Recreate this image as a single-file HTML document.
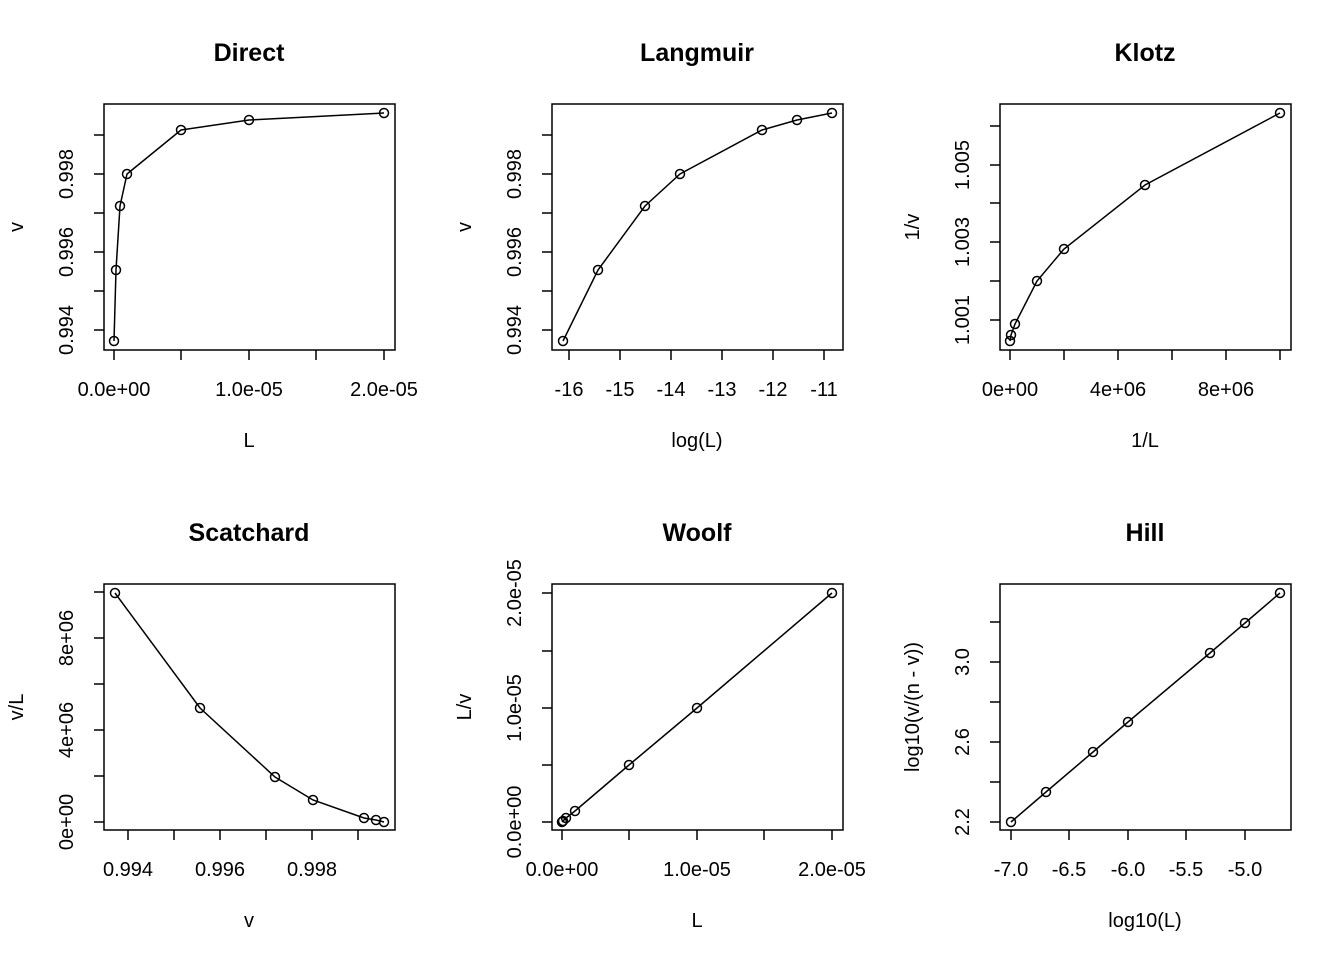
<!DOCTYPE html>
<html><head><style>body{margin:0;background:#fff}svg{display:block}text{font-family:"Liberation Sans",sans-serif;fill:#000}</style></head><body>
<svg width="1344" height="960" xmlns="http://www.w3.org/2000/svg" font-size="20">
<g fill="none" stroke="#000" stroke-width="1.5">
<rect x="104" y="104" width="291" height="246"/><rect x="552" y="104" width="291" height="246"/><rect x="1000" y="104" width="291" height="246"/>
<rect x="104" y="584" width="291" height="246"/><rect x="552" y="584" width="291" height="246"/><rect x="1000" y="584" width="291" height="246"/>
</g>
<g font-weight="bold" font-size="25" text-anchor="middle">
<text x="249" y="61">Direct</text><text x="697" y="61">Langmuir</text><text x="1145" y="61">Klotz</text>
<text x="249" y="541">Scatchard</text><text x="697" y="541">Woolf</text><text x="1145" y="541">Hill</text>
</g>
<g text-anchor="middle">
<text x="249" y="447">L</text><text x="697" y="447">log(L)</text><text x="1145" y="447">1/L</text>
<text x="249" y="927">v</text><text x="697" y="927">L</text><text x="1145" y="927">log10(L)</text>
<text transform="translate(23,227) rotate(-90)">v</text>
<text transform="translate(471,227) rotate(-90)">v</text>
<text transform="translate(919,227) rotate(-90)">1/v</text>
<text transform="translate(23,707) rotate(-90)">v/L</text>
<text transform="translate(471,707) rotate(-90)">L/v</text>
<text transform="translate(919,707) rotate(-90)">log10(v/(n - v))</text>
</g>
<g stroke="#000" stroke-width="1.5" fill="none">
<path d="M114 350v10M181 350v10M249 350v10M316 350v10M384 350v10M104 330h-10M104 291h-10M104 252h-10M104 213h-10M104 174h-10M104 135h-10"/>
<path d="M569 350v10M620 350v10M671 350v10M722 350v10M773 350v10M824 350v10M552 330h-10M552 291h-10M552 252h-10M552 213h-10M552 174h-10M552 135h-10"/>
<path d="M1010 350v10M1064 350v10M1118 350v10M1172 350v10M1226 350v10M1280 350v10M1000 320h-10M1000 281h-10M1000 242h-10M1000 203h-10M1000 165h-10M1000 126h-10"/>
<path d="M128 830v10M174 830v10M220 830v10M266 830v10M312 830v10M358 830v10M104 822h-10M104 776h-10M104 730h-10M104 684h-10M104 638h-10M104 592h-10"/>
<path d="M562 830v10M629 830v10M697 830v10M764 830v10M832 830v10M552 822h-10M552 765h-10M552 708h-10M552 651h-10M552 593h-10"/>
<path d="M1011 830v10M1069 830v10M1128 830v10M1186 830v10M1245 830v10M1000 822h-10M1000 782h-10M1000 742h-10M1000 702h-10M1000 662h-10M1000 622h-10"/>
</g>
<g text-anchor="middle">
<text x="114" y="396">0.0e+00</text><text x="249" y="396">1.0e-05</text><text x="384" y="396">2.0e-05</text>
<text x="569" y="396">-16</text><text x="620" y="396">-15</text><text x="671" y="396">-14</text><text x="722" y="396">-13</text><text x="773" y="396">-12</text><text x="824" y="396">-11</text>
<text x="1010" y="396">0e+00</text><text x="1118" y="396">4e+06</text><text x="1226" y="396">8e+06</text>
<text x="128" y="876">0.994</text><text x="220" y="876">0.996</text><text x="312" y="876">0.998</text>
<text x="562" y="876">0.0e+00</text><text x="697" y="876">1.0e-05</text><text x="832" y="876">2.0e-05</text>
<text x="1011" y="876">-7.0</text><text x="1069" y="876">-6.5</text><text x="1128" y="876">-6.0</text><text x="1186" y="876">-5.5</text><text x="1245" y="876">-5.0</text>
<text transform="translate(73,330) rotate(-90)">0.994</text><text transform="translate(73,252) rotate(-90)">0.996</text><text transform="translate(73,174) rotate(-90)">0.998</text>
<text transform="translate(521,330) rotate(-90)">0.994</text><text transform="translate(521,252) rotate(-90)">0.996</text><text transform="translate(521,174) rotate(-90)">0.998</text>
<text transform="translate(969,320) rotate(-90)">1.001</text><text transform="translate(969,242) rotate(-90)">1.003</text><text transform="translate(969,165) rotate(-90)">1.005</text>
<text transform="translate(73,822) rotate(-90)">0e+00</text><text transform="translate(73,730) rotate(-90)">4e+06</text><text transform="translate(73,638) rotate(-90)">8e+06</text>
<text transform="translate(521,822) rotate(-90)">0.0e+00</text><text transform="translate(521,708) rotate(-90)">1.0e-05</text><text transform="translate(521,593) rotate(-90)">2.0e-05</text>
<text transform="translate(969,822) rotate(-90)">2.2</text><text transform="translate(969,742) rotate(-90)">2.6</text><text transform="translate(969,662) rotate(-90)">3.0</text>
</g>
<g fill="none" stroke="#000" stroke-width="1.5">
<polyline points="114,341 116,270 120,206 127,174 181,130 249,120 384,113"/>
<polyline points="563,341 598,270 645,206 680,174 762,130 797,120 832,113"/>
<polyline points="1010,341 1011,335 1015,324 1037,281 1064,249 1145,185 1280,113"/>
<polyline points="115,593 200,708 275,777 313,800 364,818 376,820 384,822"/>
<polyline points="562,822 563,821 566,818 575,811 629,765 697,708 832,593"/>
<polyline points="1011,822 1046,792 1093,752 1128,722 1210,653 1245,623 1280,593"/>
<g fill="none">
<circle cx="114" cy="341" r="4.5"/><circle cx="116" cy="270" r="4.5"/><circle cx="120" cy="206" r="4.5"/><circle cx="127" cy="174" r="4.5"/><circle cx="181" cy="130" r="4.5"/><circle cx="249" cy="120" r="4.5"/><circle cx="384" cy="113" r="4.5"/>
<circle cx="563" cy="341" r="4.5"/><circle cx="598" cy="270" r="4.5"/><circle cx="645" cy="206" r="4.5"/><circle cx="680" cy="174" r="4.5"/><circle cx="762" cy="130" r="4.5"/><circle cx="797" cy="120" r="4.5"/><circle cx="832" cy="113" r="4.5"/>
<circle cx="1010" cy="341" r="4.5"/><circle cx="1011" cy="335" r="4.5"/><circle cx="1015" cy="324" r="4.5"/><circle cx="1037" cy="281" r="4.5"/><circle cx="1064" cy="249" r="4.5"/><circle cx="1145" cy="185" r="4.5"/><circle cx="1280" cy="113" r="4.5"/>
<circle cx="115" cy="593" r="4.5"/><circle cx="200" cy="708" r="4.5"/><circle cx="275" cy="777" r="4.5"/><circle cx="313" cy="800" r="4.5"/><circle cx="364" cy="818" r="4.5"/><circle cx="376" cy="820" r="4.5"/><circle cx="384" cy="822" r="4.5"/>
<circle cx="562" cy="822" r="4.5"/><circle cx="563" cy="821" r="4.5"/><circle cx="566" cy="818" r="4.5"/><circle cx="575" cy="811" r="4.5"/><circle cx="629" cy="765" r="4.5"/><circle cx="697" cy="708" r="4.5"/><circle cx="832" cy="593" r="4.5"/>
<circle cx="1011" cy="822" r="4.5"/><circle cx="1046" cy="792" r="4.5"/><circle cx="1093" cy="752" r="4.5"/><circle cx="1128" cy="722" r="4.5"/><circle cx="1210" cy="653" r="4.5"/><circle cx="1245" cy="623" r="4.5"/><circle cx="1280" cy="593" r="4.5"/>
</g>
</g>
</svg>
</body></html>
